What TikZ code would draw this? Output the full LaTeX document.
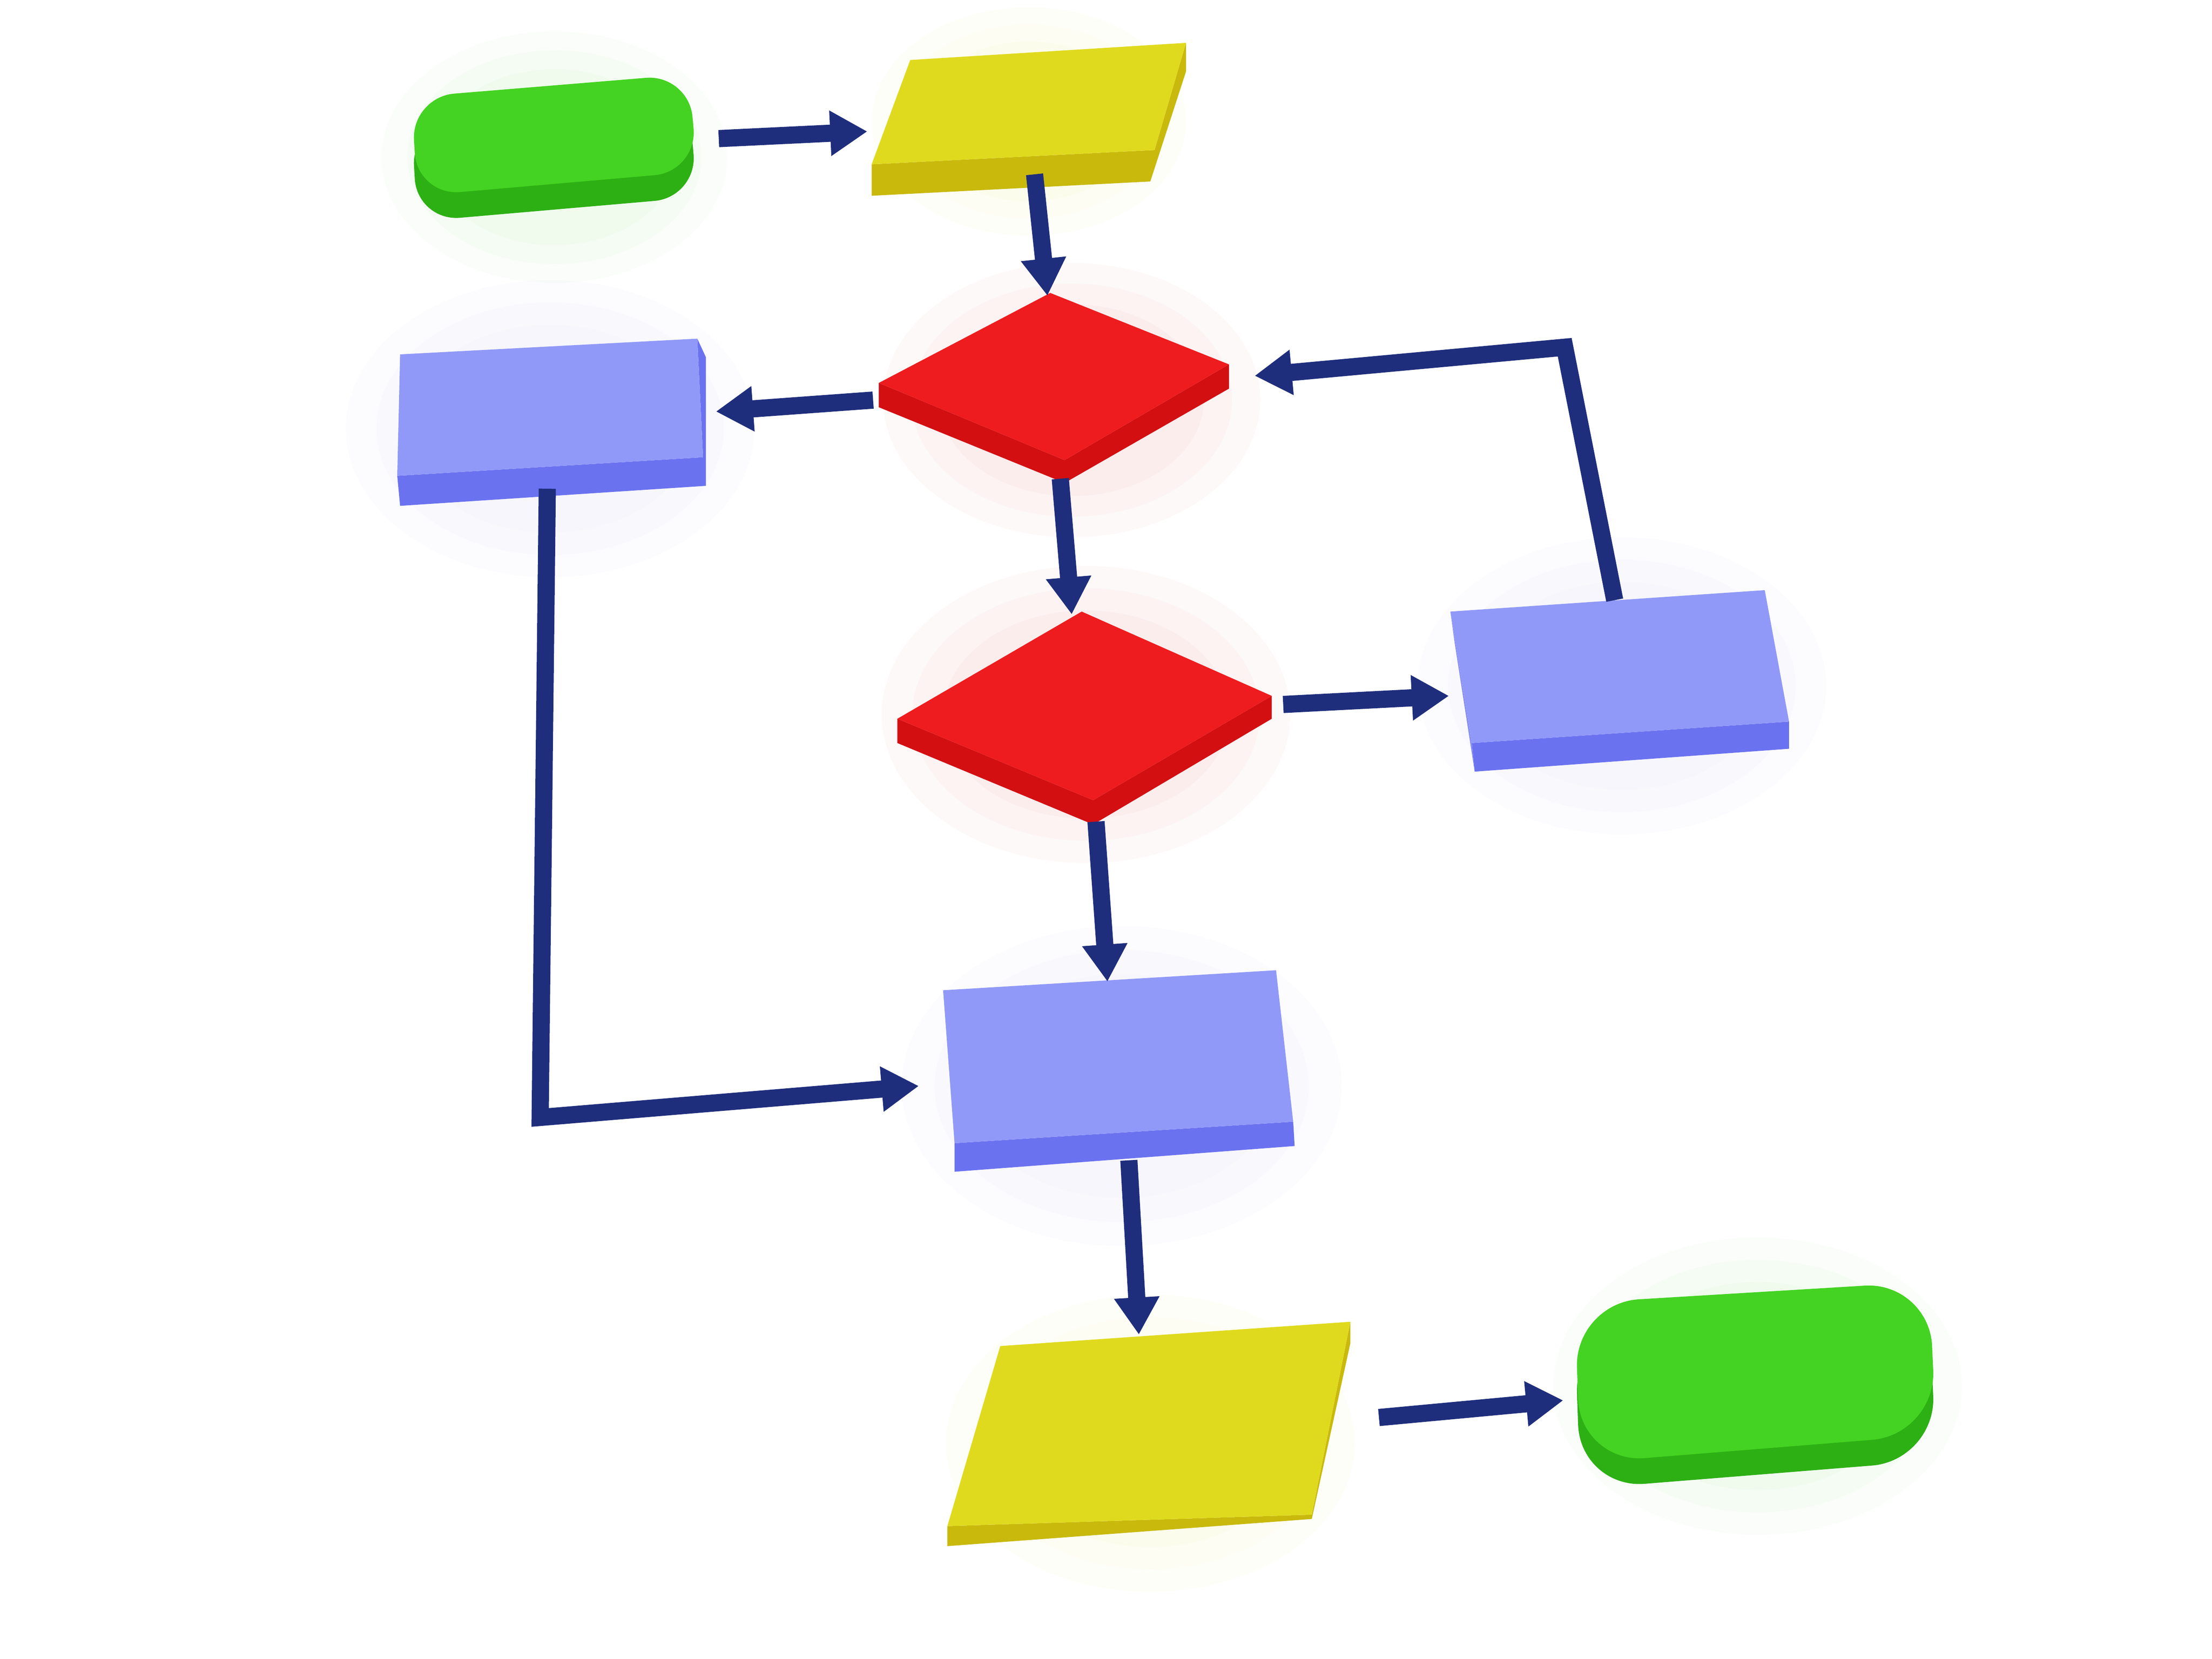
\documentclass[tikz,border=0pt]{standalone}
\usetikzlibrary{arrows.meta}
\begin{document}
\begin{tikzpicture}[x=0.01cm,y=-0.01cm,
  arr/.style={draw=arrowc,line width=0.12cm,-{Triangle[length=0.26cm,width=0.3cm]}},
]
\definecolor{arrowc}{HTML}{1F2E7C}
\definecolor{gtop}{HTML}{44D322}\definecolor{gside}{HTML}{2DB014}
\definecolor{ytop}{HTML}{E0DA1E}\definecolor{yside}{HTML}{C9B90C}
\definecolor{rtop}{HTML}{EE1C1E}\definecolor{rside}{HTML}{D30F12}
\definecolor{btop}{HTML}{9199F8}\definecolor{bside}{HTML}{6B72F0}
\useasboundingbox (0,0) rectangle (1548,1161);
\fill[white] (0,0) rectangle (1548,1161);
% soft glows
\foreach \c/\x/\y/\r in {gtop/388/110/110, btop/385/300/130, btop/1135/480/130, btop/785/760/140, rtop/750/280/120, rtop/760/500/130, ytop/720/85/100, ytop/805/1010/130, gtop/1230/970/130}
  \foreach \k in {1.0,0.85,0.7}
    \fill[\c,opacity=0.025] (\x,\y) ellipse ({\r*\k*1.1} and \r*\k*0.8);
% green 1
\fill[gside,rounded corners=0.3cm] (288,86)--(482,70)--(488,138)--(292,155)--cycle;
\fill[gtop,rounded corners=0.3cm] (288,68)--(482,52)--(488,120)--(292,137)--cycle;
% yellow 1
\fill[yside] (610,115)--(808,105)--(830,30)--(830,50)--(805,127)--(610,137)--cycle;
\fill[ytop] (637,42)--(830,30)--(808,105)--(610,115)--cycle;
% red diamonds
\fill[rside] (615,268)--(745,322)--(860,255)--(860,272)--(745,338)--(615,285)--cycle;
\fill[rtop] (735,205)--(860,255)--(745,322)--(615,268)--cycle;
\fill[rside] (628,503)--(765,560)--(890,487)--(890,503)--(765,577)--(628,520)--cycle;
\fill[rtop] (757,428)--(890,487)--(765,560)--(628,503)--cycle;
% blue boxes
\fill[bside] (278,333)--(492,320)--(488,237)--(494,250)--(494,340)--(280,354)--cycle;
\fill[btop] (280,248)--(488,237)--(492,320)--(278,333)--cycle;
\fill[bside] (1030,520)--(1252,505)--(1252,524)--(1032,540)--cycle;
\fill[bside!80] (1015,428)--(1030,520)--(1032,540)--(1018,450)--cycle;
\fill[btop] (1015,428)--(1235,413)--(1252,505)--(1030,520)--cycle;
\fill[bside] (668,800)--(905,785)--(906,802)--(668,820)--cycle;
\fill[btop] (660,693)--(893,679)--(905,785)--(668,800)--cycle;
% yellow 2
\fill[yside] (663,1068)--(918,1060)--(945,925)--(945,940)--(918,1063)--(663,1082)--cycle;
\fill[ytop] (700,942)--(945,925)--(918,1060)--(663,1068)--cycle;
% green 2
\fill[gside,rounded corners=0.45cm] (1102,930)--(1350,915)--(1355,1022)--(1106,1042)--cycle;
\fill[gtop,rounded corners=0.45cm] (1102,912)--(1350,897)--(1355,1004)--(1106,1024)--cycle;
% connector endpoints
\coordinate (a1) at (503,97); \coordinate (b1) at (607,92);
\coordinate (a2) at (724,122); \coordinate (b2) at (733,207);
\coordinate (a3) at (611,280); \coordinate (b3) at (501,288);
\coordinate (a4) at (742,335); \coordinate (b4) at (750,430);
\coordinate (a5) at (898,493); \coordinate (b5) at (1014,487);
\coordinate (a6) at (1130,420); \coordinate (m6) at (1095,243); \coordinate (b6) at (878,263);
\coordinate (a7) at (767,575); \coordinate (b7) at (775,687);
\coordinate (a8) at (383,342); \coordinate (m8) at (378,782); \coordinate (b8) at (643,760);
\coordinate (a9) at (790,812); \coordinate (b9) at (797,934);
\coordinate (a10) at (965,992); \coordinate (b10) at (1094,980);
\draw[arr] (a1)--(b1);
\draw[arr] (a2)--(b2);
\draw[arr] (a3)--(b3);
\draw[arr] (a4)--(b4);
\draw[arr] (a5)--(b5);
\draw[arr,line join=miter] (a6)--(m6)--(b6);
\draw[arr] (a7)--(b7);
\draw[arr,line join=miter] (a8)--(m8)--(b8);
\draw[arr] (a9)--(b9);
\draw[arr] (a10)--(b10);
\end{tikzpicture}
\end{document}
